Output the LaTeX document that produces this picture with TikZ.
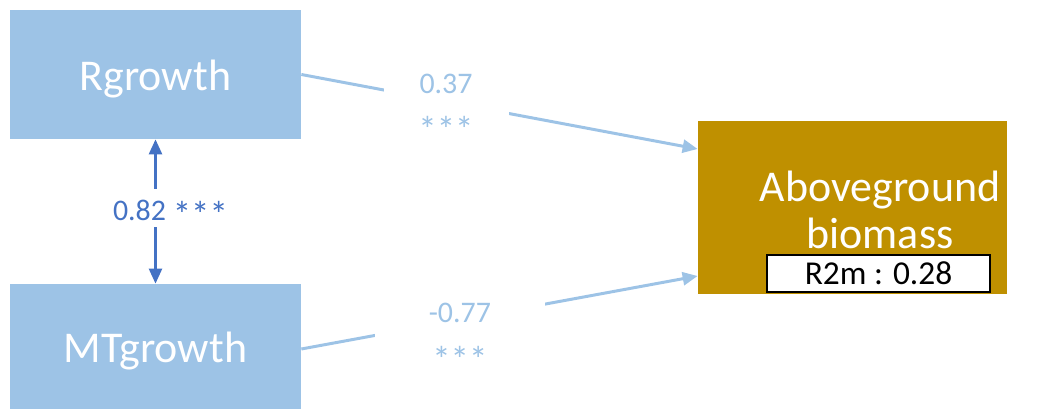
\documentclass[tikz,border=0pt]{standalone}
\usepackage{fontspec}
\setmainfont{Carlito}
\usepackage{xcolor}
\usepackage{tikz}
\usetikzlibrary{arrows.meta}
\definecolor{paleblue}{HTML}{9DC3E6}
\definecolor{midblue}{HTML}{4472C4}
\definecolor{gold}{HTML}{BF9000}
\newcommand{\sigstars}[1]{{\fontsize{21}{20}\selectfont\raisebox{#1}[\height][\depth]{***}}}

\begin{document}
\begin{tikzpicture}[
        >={Triangle[length=0.3cm,width=0.26cm]},
        varbox/.style={fill=paleblue, minimum width=5.82cm, minimum height=2.58cm, inner sep=0pt,
            text=white, text height=0.8cm, font=\fontsize{25}{30}\selectfont},
        resbox/.style={fill=gold, minimum width=6.18cm, minimum height=3.46cm, inner sep=0pt},
        restext/.style={text=white, align=center, inner sep=0pt, font=\fontsize{25}{27}\selectfont},
        r2box/.style={draw=black, line width=1.1pt, fill=white, minimum width=4.46cm, minimum height=0.74cm,
            inner sep=0pt, font=\fontsize{19}{22}\selectfont},
        pathline/.style={draw=paleblue, line width=1.7pt},
        corrline/.style={draw=midblue, line width=1.4pt},
        coef/.style={fill=white, text=paleblue, align=center, minimum width=2.5cm,
            font=\fontsize{17}{20}\selectfont}
    ]
                \useasboundingbox (0,0) rectangle (21,8.2);
                \node [varbox] (rg) at (3.11,6.71) {Rgrowth};
                \node [varbox, minimum height=2.5cm] (mt) at (3.11,1.27) {MTgrowth};
                \node [resbox] (ab) at (17.05,4.05) {};
                \node [restext] (abtext) at (17.6,4.0) {Aboveground\\biomass};
                \node [r2box] (r2) at (17.57,2.73) {R2m : 0.28};
                \draw [pathline, ->] (rg.east) -- node [coef, pos=0.365, yshift=0.01cm]{0.37\\\sigstars{-0.28cm}} ([yshift=1.17cm]ab.west);
                \draw [pathline, ->] ([yshift=-0.05cm]mt.east) -- node [coef, pos=0.40, minimum width=3.4cm, yshift=-0.22cm]{-0.77\\\sigstars{-0.28cm}} ([yshift=-1.37cm]ab.west);
                \draw [corrline, <->] (rg.south) -- node [fill=white, text=midblue, inner xsep=1pt, inner ysep=0.11cm, xshift=0.3cm, yshift=0.07cm, font=\fontsize{17}{20}\selectfont]{0.82 \sigstars{-0.14cm}} (mt.north);
            \end{tikzpicture}
\end{document}
